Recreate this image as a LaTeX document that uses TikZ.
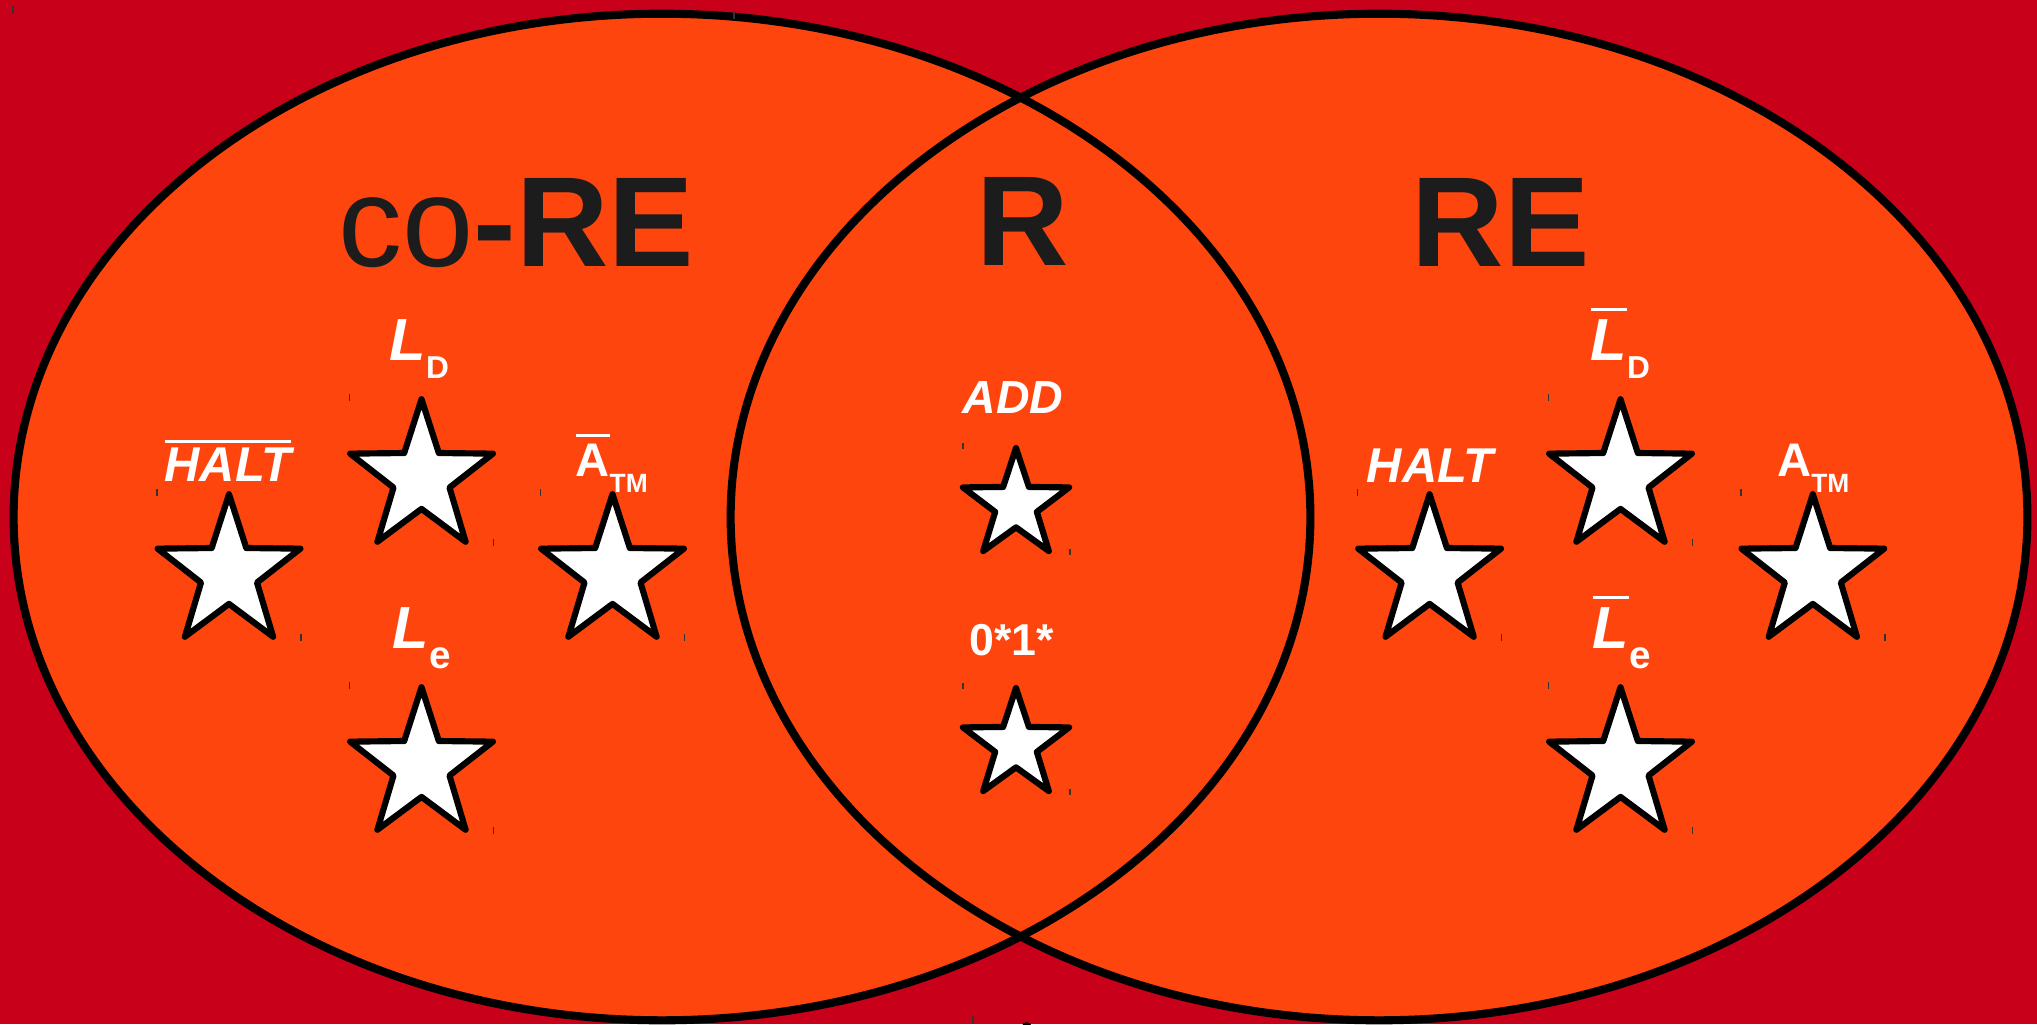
\documentclass[tikz,border=0pt]{standalone}
\usepackage{fontspec}
\setmainfont{Liberation Sans}
\usetikzlibrary{shapes.geometric}
\definecolor{bgred}{RGB}{200,0,26}
\definecolor{setfill}{RGB}{255,69,14}
\definecolor{ink}{RGB}{28,28,28}
\newcommand\barred[2][2pt]{\vbox{\hrule height 0.85pt\kern#1\hbox{#2}}}
\newcommand\fs[1]{\fontsize{#1}{#1}\selectfont}
\newcommand\placestar[5]{%
  \begin{scope}[shift={(#2,#3)}, yscale=#5]
    \node[#4, transform shape] (#1) at (0,0) {};
  \end{scope}}
\tikzset{
  starbase/.style={star, star points=5, star point ratio=2.55, draw=black, fill=white,
    line width=1.75pt, line join=round, inner sep=0pt, outer sep=0pt},
  bigstar/.style={starbase, minimum size=1.5cm},
  smallstar/.style={starbase, minimum size=1.116cm},
  setline/.style={draw=black, line width=2.3pt},
  title/.style={text=ink, inner sep=0pt, anchor=base west, font=\fs{36.4pt}},
  lab/.style={text=white, inner sep=0pt, anchor=base west, font=\bfseries},
  hitick/.style={draw=black!80, line width=0.45pt}
}
\begin{document}
\begin{tikzpicture}[x=0.01cm, y=-0.01cm]
\fill[bgred] (0,0) rectangle (2037,1024);
\useasboundingbox (0,0) rectangle (2037,1024);
% sets
\fill[setfill] (662,517) ellipse [x radius=6.48cm, y radius=5.03cm];
\fill[setfill] (1379,517) ellipse [x radius=6.48cm, y radius=5.03cm];
\draw[setline] (662,517) ellipse [x radius=6.48cm, y radius=5.03cm];
\draw[setline] (1379,517) ellipse [x radius=6.48cm, y radius=5.03cm];
% titles
\node[title] (tco) at (338,266) {co\textbf{-RE}};
\node[title] (tr) at (976,265) {\textbf{R}};
\node[title] (tre) at (1411,266) {\textbf{RE}};
% stars
\placestar{s1}{229}{573}{bigstar}{1.05}
\placestar{s2}{421.5}{478}{bigstar}{1.05}
\placestar{s3}{612.5}{573}{bigstar}{1.05}
\placestar{s4}{421.5}{766}{bigstar}{1.05}
\placestar{s5}{1016}{505}{smallstar}{1.02}
\placestar{s6}{1016}{745}{smallstar}{1.02}
\placestar{s7}{1429.6}{573}{bigstar}{1.05}
\placestar{s8}{1620.5}{478}{bigstar}{1.05}
\placestar{s9}{1812.8}{573}{bigstar}{1.05}
\placestar{s10}{1620.5}{766}{bigstar}{1.05}
% ticks (bounding marks)
\foreach \s in {s1,s2,s3,s4,s7,s8,s9,s10}{
  \draw[hitick] (\s.center) ++(-72,-84) -- ++(0,7);
  \draw[hitick] (\s.center) ++(72,61) -- ++(0,7);
}
\foreach \s in {s5,s6}{
  \draw[hitick] (\s.center) ++(-53,-62) -- ++(0,6);
  \draw[hitick] (\s.center) ++(54,44) -- ++(0,6);
}
\coordinate (k1) at (13,6);
\coordinate (k2) at (734,11);
\coordinate (k3) at (973,1016);
\draw[hitick] (k1) -- ++(0,8);
\draw[hitick] (k2) -- ++(0,8);
\draw[hitick] (k3) -- ++(0,8);
\fill[black] (1026.7,1027) circle [radius=0.05cm];
% labels left
\node[lab] (l1) at (164,481.7) {\fs{13.9pt}\barred[1.4pt]{\itshape HALT}};
\node[lab] (l2) at (389,360) {\fs{16.9pt}\itshape L\upshape\raisebox{-5.2pt}{\fs{9pt}D}};
\node[lab] (l3) at (575,476.7) {\fs{13.4pt}\barred[2.2pt]{A}\raisebox{-4.4pt}{\fs{7.5pt}TM}};
\node[lab] (l4) at (392,648.3) {\fs{16.9pt}\itshape L\upshape\raisebox{-5.7pt}{\fs{11pt}e}};
% labels middle
\node[lab] (l5) at (962,413) {\fs{13.2pt}\itshape ADD};
\node[lab] (l6) at (969,655) {\fs{12.7pt}0*1*};
% labels right
\node[lab] (l7) at (1366,482.7) {\fs{13.9pt}\itshape HALT};
\node[lab] (l8) at (1590,360) {\fs{16.9pt}\barred[2.3pt]{\itshape L}\upshape\raisebox{-5.2pt}{\fs{9pt}D}};
\node[lab] (l9) at (1776.5,476.7) {\fs{13.4pt}A\raisebox{-4.4pt}{\fs{7.5pt}TM}};
\node[lab] (l10) at (1592,648.3) {\fs{16.9pt}\barred[2.3pt]{\itshape L}\upshape\raisebox{-5.7pt}{\fs{11pt}e}};
\end{tikzpicture}
\end{document}
